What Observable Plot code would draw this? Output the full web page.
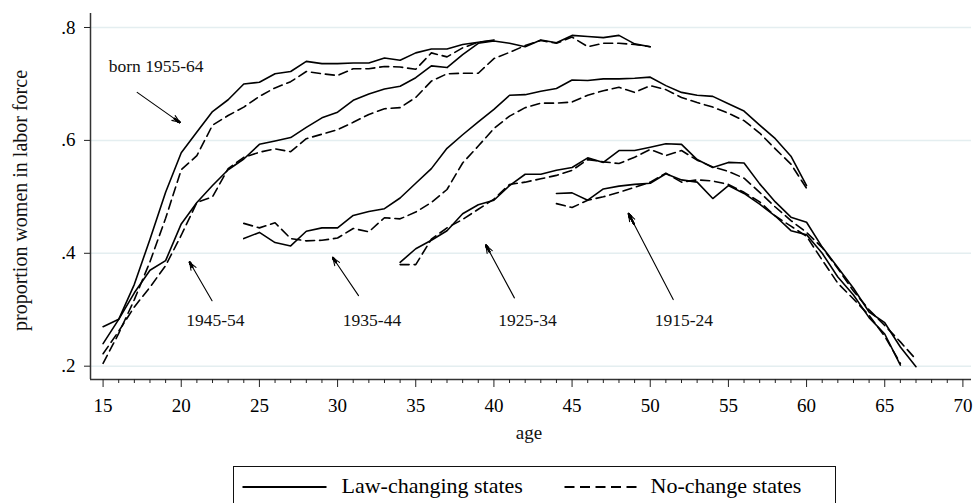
<!DOCTYPE html>
<html>
<head>
<meta charset="utf-8">
<script src="https://cdn.jsdelivr.net/npm/d3@7"></script>
<script src="https://cdn.jsdelivr.net/npm/@observablehq/plot@0.6"></script>
<style>
html, body { margin: 0; padding: 0; background: #fff; overflow: hidden; width: 978px; height: 503px; }
body { position: relative; font-family: "Liberation Serif", "Times New Roman", serif; color: #000; }
#chart svg { display: block; }
#legend { position: absolute; left: 233px; top: 466px; width: 603px; height: 60px; border: 1.5px solid #111; box-sizing: border-box; background: #fff; }
#legend svg { display: block; font-family: "Liberation Serif", "Times New Roman", serif; }
</style>
</head>
<body>
<div id="chart"></div>
<div id="legend">
  <svg width="600" height="45">
    <line x1="8.5" x2="92.5" y1="20" y2="20" stroke="#000" stroke-width="2.2"></line>
    <text x="107.5" y="25.5" font-size="22" fill="#000">Law-changing states</text>
    <line x1="330.5" x2="402.5" y1="20" y2="20" stroke="#000" stroke-width="2.2" stroke-dasharray="10,5.5"></line>
    <text x="416.5" y="25.5" font-size="22" fill="#000">No-change states</text>
  </svg>
</div>
<script>
// ---- data: proportion of women in labor force by age, per birth cohort ----
const cohorts = ["1955-64", "1945-54", "1935-44", "1925-34", "1915-24"];
const firstAge = [15, 15, 24, 34, 44];

const law_1955_64 = [.240, .283, .345, .425, .508, .578, .615, .651, .672, .700, .703, .718, .722, .740, .736, .736, .737, .737, .746, .742, .755, .762, .762, .770, .774, .778];
const none_1955_64 = [.205, .258, .318, .385, .462, .548, .573, .627, .644, .659, .678, .693, .704, .722, .718, .715, .727, .727, .731, .730, .726, .755, .748, .764, .774, .777];

const law_1945_54 = [.270, .283, .330, .370, .387, .452, .490, .520, .548, .567, .593, .599, .605, .623, .640, .650, .671, .682, .691, .696, .711, .732, .729, .752, .772, .776, .772, .766, .778, .773, .786, .784, .782, .786, .771, .766];
const none_1945_54 = [.222, .262, .305, .340, .378, .432, .490, .500, .550, .570, .579, .585, .580, .603, .611, .619, .632, .646, .656, .658, .676, .705, .718, .719, .719, .745, .756, .768, .777, .772, .783, .766, .772, .772, .770, .766];

const law_1935_44 = [.426, .437, .419, .413, .439, .445, .445, .467, .474, .479, .498, .524, .550, .586, .610, .633, .655, .680, .681, .687, .692, .707, .706, .709, .709, .710, .712, .697, .685, .680, .678, .665, .652, .627, .603, .572, .520];
const none_1935_44 = [.453, .445, .454, .426, .422, .423, .427, .444, .438, .463, .461, .473, .490, .513, .560, .590, .621, .643, .658, .666, .666, .668, .680, .688, .694, .685, .697, .690, .676, .667, .659, .648, .635, .613, .585, .558, .515];

const law_1925_34 = [.384, .408, .423, .440, .470, .486, .494, .520, .540, .540, .547, .552, .569, .561, .582, .582, .588, .594, .593, .566, .552, .561, .560, .523, .491, .464, .455, .411, .375, .338, .296, .277, .234, .199];
const none_1925_34 = [.380, .380, .425, .445, .460, .478, .496, .522, .526, .532, .538, .547, .566, .562, .559, .570, .584, .573, .582, .565, .553, .545, .533, .508, .482, .458, .437, .410, .373, .333, .300, .272, .243, .212];

const law_1915_24 = [.506, .507, .494, .514, .519, .522, .524, .541, .530, .526, .497, .520, .506, .487, .466, .440, .433, .400, .358, .326, .286, .257, .202];
const none_1915_24 = [.488, .481, .494, .500, .508, .517, .526, .542, .526, .530, .528, .522, .508, .491, .466, .448, .430, .388, .347, .319, .290, .253, .205];

const lawSeries = [law_1955_64, law_1945_54, law_1935_44, law_1925_34, law_1915_24];
const noneSeries = [none_1955_64, none_1945_54, none_1935_44, none_1925_34, none_1915_24];

// tick values
const xMajorTicks = [15, 20, 25, 30, 35, 40, 45, 50, 55, 60, 65, 70];
const xMinorTicks = [16,17,18,19,21,22,23,24,26,27,28,29,31,32,33,34,36,37,38,39,41,42,43,44,46,47,48,49,51,52,53,54,56,57,58,59,61,62,63,64,66,67,68,69];
const yTicks = [.2, .4, .6, .8];

// annotations (cohort labels and arrows)
const labelText = ["born 1955-64", "1945-54", "1935-44", "1925-34", "1915-24"];
const labelAge = [15.36, 22.18, 32.2, 42.15, 52.15];
const labelValue = [.7208, .2703, .2703, .2703, .2703];
const arrowFromAge = [17.18, 21.97, 31.34, 41.31, 51.47];
const arrowFromValue = [.685, .316, .325, .321, .318];
const arrowToAge = [19.9, 20.54, 29.7, 39.5, 48.62];
const arrowToValue = [.632, .384, .392, .414, .470];

// ---- build tables ----
const rows = [];
cohorts.forEach((c, k) => {
  lawSeries[k].forEach((v, i) => rows.push({cohort: c, group: "law", age: firstAge[k] + i, value: v}));
  noneSeries[k].forEach((v, i) => rows.push({cohort: c, group: "none", age: firstAge[k] + i, value: v}));
});
const labels = labelText.map((t, i) => ({text: t, age: labelAge[i], value: labelValue[i]}));
const arrows = labelText.map((t, i) => ({x1: arrowFromAge[i], y1: arrowFromValue[i], x2: arrowToAge[i], y2: arrowToValue[i]}));

const xDomain = [14.195, 70.55];
const yDomain = [.1764, .8248];
const fontFamily = '"Liberation Serif", "Times New Roman", serif';

// thin shaft with an open head, then short segments near the tip to fill the head
const arrowShaft = Plot.arrow(arrows, {
  x1: "x1", y1: "y1", x2: "x2", y2: "y2",
  stroke: "#000", strokeWidth: 1.1, headLength: 11, headAngle: 42
});
const arrowFill = [36, 29, 22, 15, 8].map(a => Plot.arrow(arrows, {
  x1: d => d.x2 - (d.x2 - d.x1) * 0.12, y1: d => d.y2 - (d.y2 - d.y1) * 0.12,
  x2: "x2", y2: "y2",
  stroke: "#000", strokeWidth: 1.8, headLength: 10.5, headAngle: a
}));

const chart = Plot.plot({
  width: 978,
  height: 460,
  marginLeft: 90,
  marginRight: 7,
  marginTop: 13,
  marginBottom: 81,
  x: {domain: xDomain},
  y: {domain: yDomain},
  style: {fontFamily, fontSize: "19px", color: "#000", background: "#fff"},
  marks: [
    Plot.gridY(yTicks, {stroke: "#e4eef0", strokeOpacity: 1, strokeWidth: 1.5}),
    Plot.ruleY([yDomain[0]], {stroke: "#333", strokeWidth: 1.5}),
    Plot.ruleX([xDomain[0]], {stroke: "#333", strokeWidth: 1.5}),
    Plot.axisX(xMajorTicks, {tickSize: 8, tickPadding: 11, fontSize: 19, tickFormat: d => String(d), stroke: "#222"}),
    Plot.axisX(xMinorTicks, {tickSize: 4, tickFormat: () => "", stroke: "#222"}),
    Plot.axisY(yTicks, {tickSize: 6, tickPadding: 9, fontSize: 19, stroke: "#222",
      tickFormat: d => d3.format(".1f")(d).replace(/^0/, "")}),
    Plot.line(rows.filter(d => d.group === "law"), {x: "age", y: "value", z: "cohort", stroke: "#000", strokeWidth: 1.6}),
    Plot.line(rows.filter(d => d.group === "none"), {x: "age", y: "value", z: "cohort", stroke: "#000", strokeWidth: 1.6, strokeDasharray: "9,5"}),
    arrowShaft,
    ...arrowFill,
    Plot.text(labels.filter(d => d.text.startsWith("born")), {x: "age", y: "value", text: "text", fontSize: 17.5, lineAnchor: "bottom", textAnchor: "start", fill: "#111"}),
    Plot.text(labels.filter(d => !d.text.startsWith("born")), {x: "age", y: "value", text: "text", fontSize: 17.5, lineAnchor: "bottom", textAnchor: "middle", fill: "#111"}),
    Plot.text(["proportion women in labor force"], {x: 9.72, y: .4935, text: d => d, rotate: -90, fontSize: 20, fill: "#111"}),
    Plot.text(["age"], {frameAnchor: "bottom", dy: 59, dx: -2, lineAnchor: "bottom", text: d => d, fontSize: 19, fill: "#111"})
  ]
});
document.getElementById("chart").appendChild(chart);
</script>
</body>
</html>
